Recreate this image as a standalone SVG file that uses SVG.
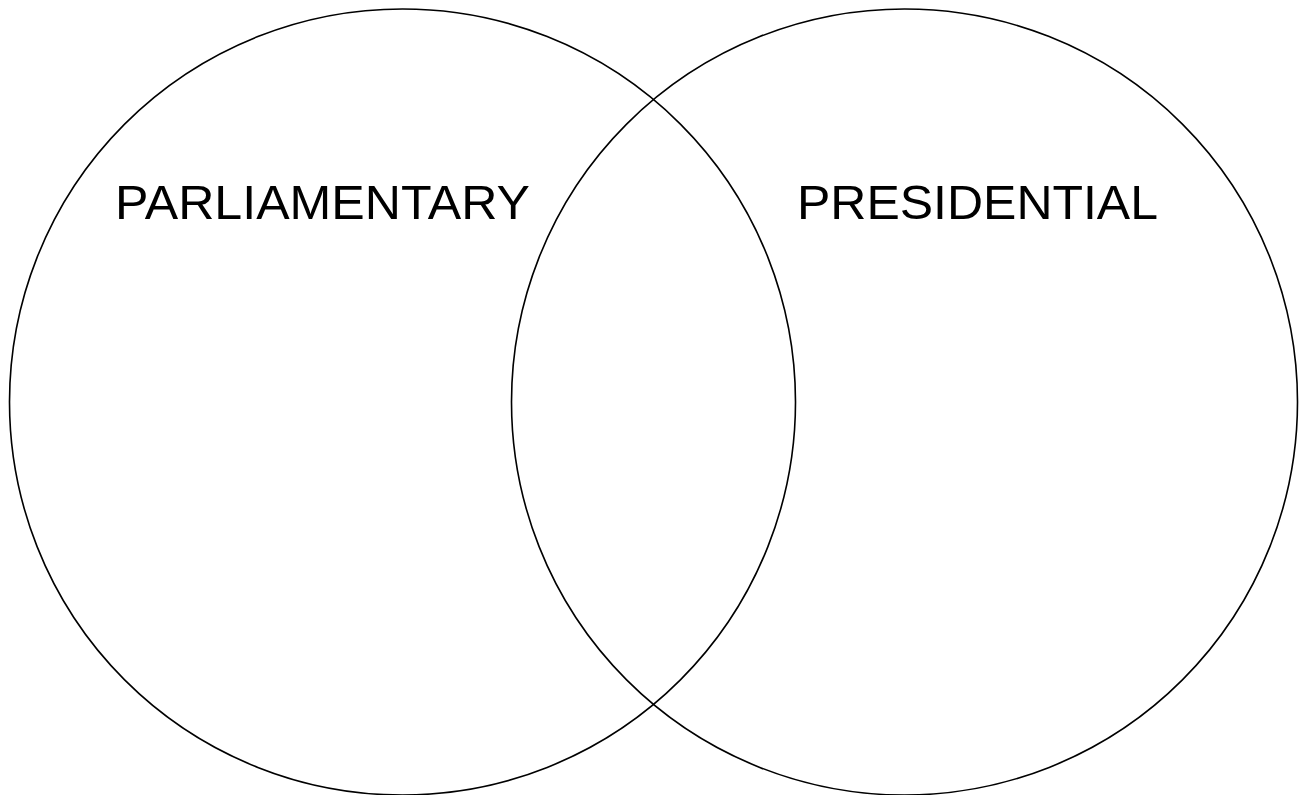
<svg xmlns="http://www.w3.org/2000/svg" width="1299" height="795" viewBox="0 0 1299 795">
<style>
.c{fill:none;stroke:#000;stroke-width:1.6}
.t{font-family:"Liberation Sans",Arial,sans-serif;font-size:48px;fill:#000}
</style>
<rect width="1299" height="795" fill="#fff"/>
<g id="parliamentary">
<circle class="c" cx="402.5" cy="402" r="393"/>
<text class="t" x="115" y="219" textLength="415" lengthAdjust="spacingAndGlyphs">PARLIAMENTARY</text>
</g>
<g id="presidential">
<circle class="c" cx="904.5" cy="402" r="393"/>
<text class="t" x="797" y="219" textLength="361" lengthAdjust="spacingAndGlyphs">PRESIDENTIAL</text>
</g>
<g id="connectors"></g>
</svg>
